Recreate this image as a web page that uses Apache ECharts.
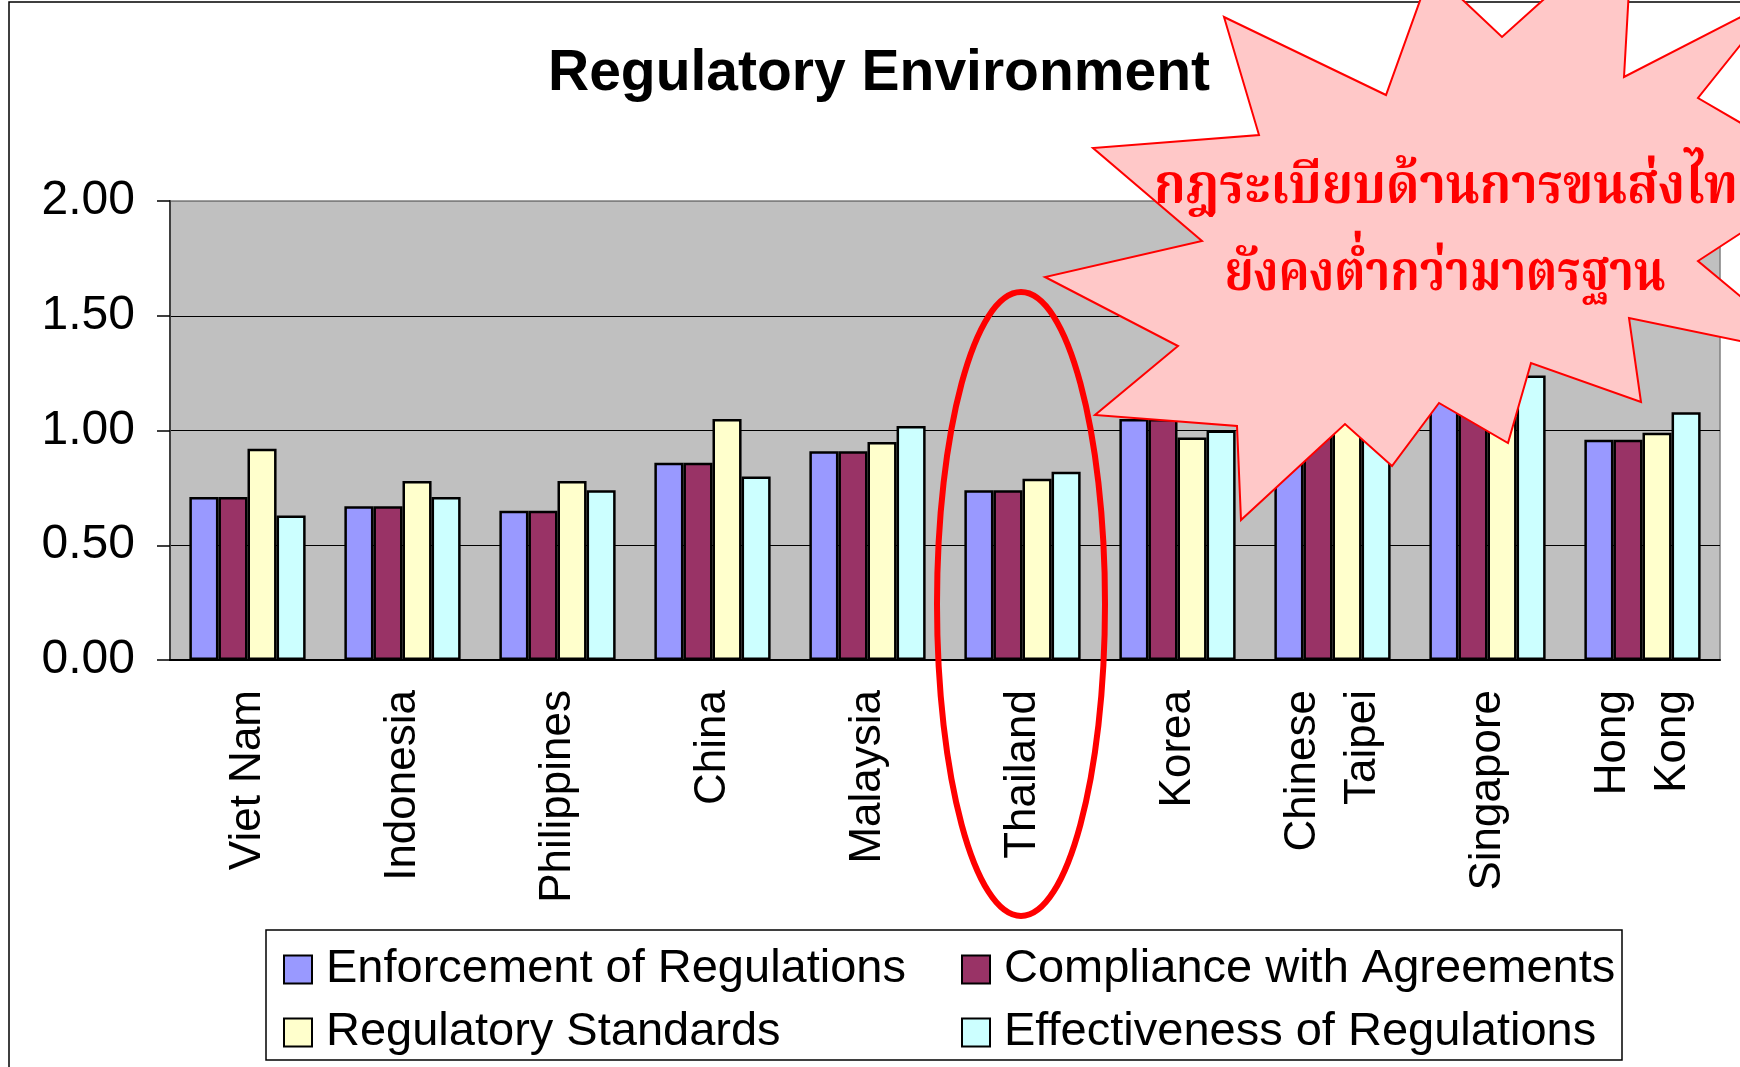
<!DOCTYPE html>
<html>
<head>
<meta charset="utf-8">
<script src="https://cdn.jsdelivr.net/npm/echarts@6/dist/echarts.min.js"></script>
<style>
  html, body { margin: 0; padding: 0; background: #fff; }
  #chart { width: 1740px; height: 1067px; }
</style>
</head>
<body>
<div id="chart"></div>
<script>
// chart data
const categories = ['Viet Nam', 'Indonesia', 'Philippines', 'China', 'Malaysia', 'Thailand', 'Korea', 'Chinese\nTaipei', 'Singapore', 'Hong\nKong'];
const enforcement = [0.71, 0.67, 0.65, 0.86, 0.91, 0.74, 1.05, 1.00, 1.17, 0.96];
const compliance = [0.71, 0.67, 0.65, 0.86, 0.91, 0.74, 1.05, 1.00, 1.17, 0.96];
const standards = [0.92, 0.78, 0.78, 1.05, 0.95, 0.79, 0.97, 1.12, 1.06, 0.99];
const effectiveness = [0.63, 0.71, 0.74, 0.80, 1.02, 0.82, 1.00, 1.03, 1.24, 1.08];
const yTicks = [0, 0.5, 1.0, 1.5, 2.0];

const seriesNames = ['Enforcement of Regulations', 'Compliance with Agreements', 'Regulatory Standards', 'Effectiveness of Regulations'];
const seriesColors = ['#9999ff', '#993366', '#ffffcc', '#ccffff'];
const seriesValues = [enforcement, compliance, standards, effectiveness];

const noteLine1 = 'กฎระเบียบด้านการขนส่งไทย';
const noteLine2 = 'ยังคงต่ำกว่ามาตรฐาน';

const FONT = '"Liberation Sans", Arial, sans-serif';
const THAI_FONT = '"Angsana New", "Noto Serif Thai", "Noto Sans Thai", "Norasi", "Garuda", "Loma", "Tlwg Typo", serif';

const myChart = echarts.init(document.getElementById('chart'));

// starburst outline (annotation shape, not data)
const burst = [
  [1224, 17], [1386, 95], [1431, -30], [1502, 37], [1633, -81], [1624, 77],
  [1778, -2], [1698, 98], [1830, 175], [1698, 261], [1812, 356], [1629, 318],
  [1641, 402], [1531, 363], [1508, 443], [1439, 403], [1392, 466], [1345, 424],
  [1241, 520], [1237, 426], [1095, 415], [1178, 346], [1045, 277], [1202, 241],
  [1093, 148], [1259, 135]
];

let series = seriesNames.map((name, i) => ({
  name: name,
  type: 'bar',
  data: seriesValues[i],
  barGap: '0%',
  barCategoryGap: '25%',
  itemStyle: { color: seriesColors[i], borderColor: '#000', borderWidth: 2.5 }
}));

let legendStyle = {
  orient: 'vertical',
  icon: 'rect',
  itemWidth: 28,
  itemHeight: 28,
  itemGap: 16,
  padding: 0,
  selectedMode: false,
  itemStyle: { borderColor: '#000', borderWidth: 2 },
  textStyle: { fontSize: 47, fontFamily: FONT, color: '#000', padding: [0, 0, 0, 9] }
};

let option = {
  animation: false,
  backgroundColor: '#fff',
  title: {
    text: 'Regulatory Environment',
    left: 543,
    top: 41,
    textStyle: { fontSize: 57, fontWeight: 'bold', fontFamily: FONT, color: '#000' }
  },
  legend: [
    Object.assign({}, legendStyle, { left: 283, top: 946, data: [seriesNames[0], seriesNames[2]] }),
    Object.assign({}, legendStyle, { left: 961, top: 946, data: [seriesNames[1], seriesNames[3]] })
  ],
  grid: {
    left: 170,
    right: 20,
    top: 201,
    bottom: 407,
    show: true,
    backgroundColor: '#c0c0c0',
    borderColor: '#808080',
    borderWidth: 1.5
  },
  xAxis: {
    type: 'category',
    data: categories,
    axisLine: { lineStyle: { color: '#000', width: 2 } },
    axisTick: { length: 13, lineStyle: { color: '#000', width: 1.5 } },
    axisLabel: {
      interval: 0,
      rotate: 90,
      margin: 30,
      fontSize: 44,
      lineHeight: 60,
      fontFamily: FONT,
      color: '#000'
    }
  },
  yAxis: {
    type: 'value',
    min: yTicks[0],
    max: yTicks[yTicks.length - 1],
    interval: 0.5,
    axisLine: { show: true, lineStyle: { color: '#404040', width: 2 } },
    axisTick: { show: true, length: 13, lineStyle: { color: '#000', width: 1.5 } },
    splitLine: { show: true, lineStyle: { color: ['#000', '#000', '#000', '#000', '#808080'], width: 1.2 } },
    axisLabel: {
      margin: 35,
      fontSize: 48,
      fontFamily: FONT,
      color: '#000',
      formatter: v => v.toFixed(2)
    }
  },
  graphic: [
    // outer frame
    { type: 'rect', z: 50, silent: true, shape: { x: 9, y: 2, width: 1800, height: 1200 },
      style: { fill: 'none', stroke: '#000', lineWidth: 1.5 } },
    // legend box
    { type: 'rect', z: 50, silent: true, shape: { x: 266, y: 930, width: 1356, height: 130 },
      style: { fill: 'none', stroke: '#000', lineWidth: 1.5 } },
    // red ellipse around Thailand
    { type: 'ellipse', z: 100, silent: true, shape: { cx: 1021, cy: 604, rx: 84, ry: 312 },
      style: { fill: 'none', stroke: '#ff0000', lineWidth: 6 } },
    // starburst callout
    { type: 'polygon', z: 100, silent: true, shape: { points: burst },
      style: { fill: '#ffc8c8', stroke: '#ff0000', lineWidth: 2 } },
    { type: 'text', z: 101, silent: true, x: 1154, y: 194, scaleX: 0.9,
      style: { text: noteLine1, fill: '#ff0000', font: 'bold 56px ' + THAI_FONT, textAlign: 'left', textVerticalAlign: 'middle' } },
    { type: 'text', z: 101, silent: true, x: 1445, y: 281, scaleX: 0.84,
      style: { text: noteLine2, fill: '#ff0000', font: 'bold 56px ' + THAI_FONT, textAlign: 'center', textVerticalAlign: 'middle' } }
  ],
  series: series
};

myChart.setOption(option);
</script>
</body>
</html>
